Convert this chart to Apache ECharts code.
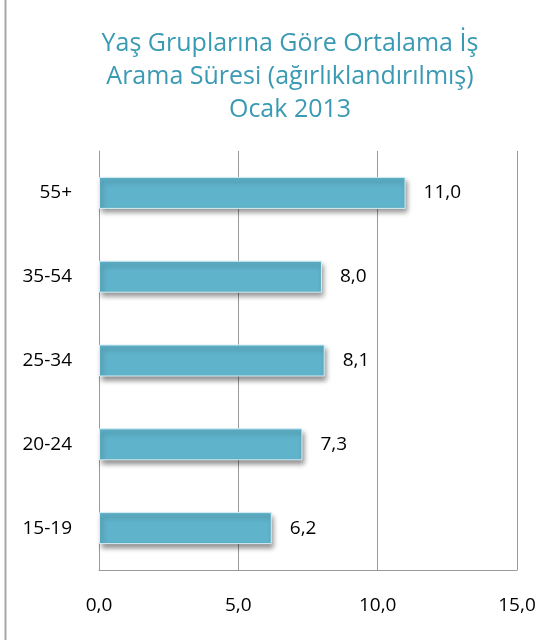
<!DOCTYPE html>
<html lang="tr">
<head>
    <meta charset="UTF-8">
    <title>Yaş Gruplarına Göre Ortalama İş Arama Süresi</title>
    <script src="https://cdn.jsdelivr.net/npm/echarts@6/dist/echarts.min.js"></script>
    <style>
        body { margin: 0; background: #fff; }
        #chart { width: 541px; height: 640px; }
    </style>
</head>
<body>
    <div id="chart"></div>
    <script>
        // data, bottom to top
        const ageGroups = ['15-19', '20-24', '25-34', '35-54', '55+'];
        const durations = [6.2, 7.3, 8.1, 8.0, 11.0];
        const xTicks = [0, 5, 10, 15];

        const fmt = v => v.toFixed(1).replace('.', ',');
        const font = '"Open Sans", Lato, sans-serif';

        const chart = echarts.init(document.getElementById('chart'));
        chart.setOption({
            animation: false,
            title: {
                text: 'Yaş Gruplarına Göre Ortalama İş\nArama Süresi (ağırlıklandırılmış)\nOcak 2013',
                left: 285,
                textAlign: 'center',
                top: 22,
                textStyle: {
                    color: '#3A9AB4',
                    fontFamily: font,
                    fontSize: 25,
                    fontWeight: 'normal',
                    lineHeight: 33
                }
            },
            graphic: [{
                type: 'line',
                shape: { x1: 5.5, y1: 0, x2: 5.5, y2: 640 },
                style: { stroke: '#a6a6a6', lineWidth: 2 }
            }],
            grid: { left: 99, right: 24, top: 151, bottom: 70 },
            xAxis: {
                type: 'value',
                min: xTicks[0],
                max: xTicks[xTicks.length - 1],
                interval: 5,
                axisLine: { show: true, lineStyle: { color: '#999' } },
                axisTick: { show: false },
                splitLine: { show: true, lineStyle: { color: '#999', width: 1 } },
                axisLabel: {
                    formatter: v => fmt(v),
                    color: '#000',
                    fontFamily: font,
                    fontSize: 19,
                    margin: 26
                }
            },
            yAxis: {
                type: 'category',
                data: ageGroups,
                axisLine: { show: true, lineStyle: { color: '#999' } },
                axisTick: { show: false },
                axisLabel: {
                    color: '#000',
                    fontFamily: font,
                    fontSize: 19,
                    margin: 27
                }
            },
            series: [{
                type: 'bar',
                data: durations,
                barWidth: 32,
                itemStyle: {
                    color: '#5FB3CB',
                    borderColor: '#d6eef5',
                    borderWidth: 1,
                    shadowColor: 'rgba(0,0,0,0.45)',
                    shadowBlur: 5,
                    shadowOffsetX: 2,
                    shadowOffsetY: 4
                },
                label: {
                    show: true,
                    position: 'right',
                    distance: 18,
                    formatter: p => fmt(p.value),
                    color: '#000',
                    fontFamily: font,
                    fontSize: 19
                }
            }]
        });
    </script>
</body>
</html>
